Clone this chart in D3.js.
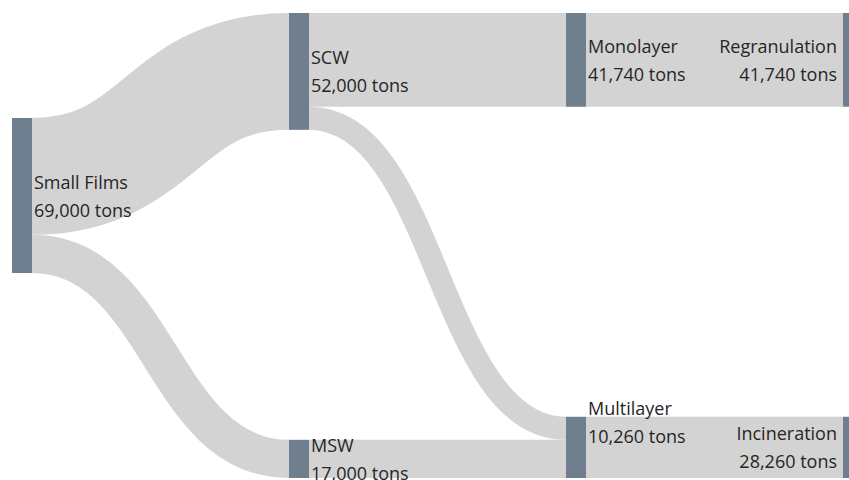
<!DOCTYPE html>
<html>
<head>
<meta charset="utf-8">
<script src="https://cdn.jsdelivr.net/npm/d3@7"></script>
<style>
  html, body { margin: 0; padding: 0; background: #fff; overflow: hidden; }
  svg { display: block; }
  text { font-family: "Open Sans", sans-serif; font-size: 18px; fill: #262626; }
</style>
</head>
<body>
<svg id="chart"></svg>
<script>
// nodes
const nodeNames = ["Small Films", "SCW", "MSW", "Monolayer", "Multilayer", "Regranulation", "Incineration"];
const nodeColumn = [0, 1, 1, 2, 2, 3, 3];
// tonnage printed under each node name
const nodeTons = [69000, 52000, 17000, 41740, 10260, 41740, 28260];

// links (flow widths)
const linkSource = [0, 0, 1, 1, 2, 3, 4];
const linkTarget = [1, 2, 3, 4, 4, 5, 6];
const linkValue = [52000, 17000, 41740, 10260, 17000, 41740, 27260];

const width = 849, height = 480;
const nodeWidth = 20;
const padTop = 13, padBottom = 478;

const svg = d3.select("#chart").attr("width", width).attr("height", height);

const x = d3.scaleLinear().domain([0, 3]).range([12, 843]);
const k = d3.scaleLinear().domain([0, 69000]).range([0, 155]);

const nodes = nodeNames.map((name, i) => ({ i, name, col: nodeColumn[i], tons: nodeTons[i], inV: 0, outV: 0 }));
const links = linkValue.map((v, i) => ({ source: nodes[linkSource[i]], target: nodes[linkTarget[i]], value: v }));
links.forEach(l => { l.source.outV += l.value; l.target.inV += l.value; });
nodes.forEach(n => {
  n.value = Math.max(n.inV, n.outV);
  n.x0 = x(n.col);
  n.x1 = n.x0 + nodeWidth;
  n.h = k(n.value);
});

// vertical placement: first node of a column on top, last one sitting on the bottom
d3.groups(nodes, n => n.col).forEach(([col, list]) => {
  if (list.length === 1) {
    list[0].y0 = 118; // the source node sits a bit above the middle
  } else {
    list[0].y0 = padTop;
    list[list.length - 1].y0 = padBottom - list[list.length - 1].h;
  }
  list.forEach(n => n.y1 = n.y0 + n.h);
});

// link offsets
nodes.forEach(n => {
  let sy = n.y0, ty = n.y0;
  links.filter(l => l.source === n).sort((a, b) => a.target.y0 - b.target.y0)
    .forEach(l => { l.w = k(l.value); l.sy = sy + l.w / 2; sy += l.w; });
  links.filter(l => l.target === n).sort((a, b) => a.source.y0 - b.source.y0)
    .forEach(l => { l.ty = ty + k(l.value) / 2; ty += k(l.value); });
});

const linkPath = d3.linkHorizontal()
  .source(d => [d.source.x1, d.sy])
  .target(d => [d.target.x0, d.ty]);

svg.append("g")
  .attr("fill", "none")
  .attr("stroke", "#d3d3d3")
  .selectAll("path")
  .data(links)
  .join("path")
  .attr("d", linkPath)
  .attr("stroke-width", d => d.w);

svg.append("g")
  .selectAll("rect")
  .data(nodes)
  .join("rect")
  .attr("x", d => d.x0)
  .attr("y", d => d.y0)
  .attr("width", nodeWidth)
  .attr("height", d => d.h)
  .attr("fill", "#6f7f8f");

const fmt = d3.format(",");
const label = svg.append("g")
  .selectAll("text")
  .data(nodes)
  .join("text")
  .attr("text-anchor", d => d.col === 3 ? "end" : "start")
  .attr("x", d => d.col === 3 ? d.x0 - 6 : d.x1 + 2);

// Multilayer label is lifted toward the top of its node
const cy = d => d.name === "Multilayer" ? d.y0 + 5 : (d.y0 + d.y1) / 2;

label.append("tspan")
  .attr("x", function () { return this.parentNode.getAttribute("x"); })
  .attr("y", d => cy(d) - 14)
  .attr("dominant-baseline", "central")
  .text(d => d.name);

label.append("tspan")
  .attr("x", function () { return this.parentNode.getAttribute("x"); })
  .attr("y", d => cy(d) + 14)
  .attr("dominant-baseline", "central")
  .text(d => fmt(d.tons) + " tons");
</script>
</body>
</html>
